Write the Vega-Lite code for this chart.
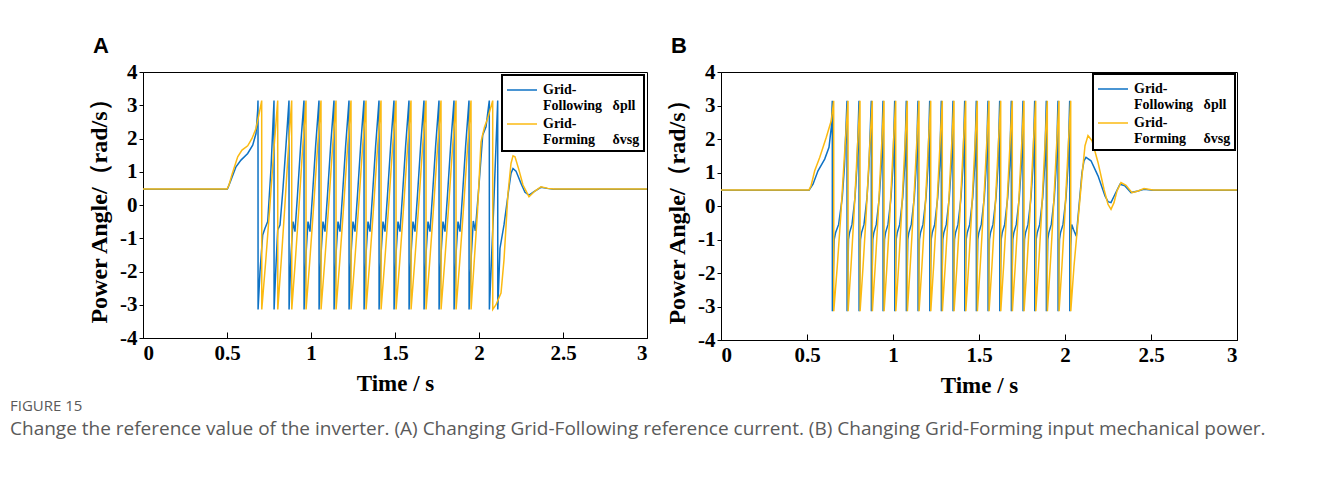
{
"$schema":"https://vega.github.io/schema/vega-lite/v6.json",
"background":"white",
"padding":{"left":10,"top":34,"right":0,"bottom":0},
"datasets":{
"A":[
{"s":"Grid-Following","t":0,"v":0.47},{"s":"Grid-Following","t":0.5,"v":0.47},{"s":"Grid-Following","t":0.5042,"v":0.5},{"s":"Grid-Following","t":0.5238,"v":0.75},{"s":"Grid-Following","t":0.5536,"v":1.15},{"s":"Grid-Following","t":0.5833,"v":1.35},{"s":"Grid-Following","t":0.6232,"v":1.55},{"s":"Grid-Following","t":0.653,"v":1.8},{"s":"Grid-Following","t":0.6726,"v":2.15},{"s":"Grid-Following","t":0.6827,"v":2.85},{"s":"Grid-Following","t":0.6845,"v":3.14},
{"s":"Grid-Following","t":0.685,"v":-3.14},{"s":"Grid-Following","t":0.6964,"v":-2.0},{"s":"Grid-Following","t":0.7125,"v":-0.9},{"s":"Grid-Following","t":0.7262,"v":-0.7},{"s":"Grid-Following","t":0.7423,"v":-0.5},{"s":"Grid-Following","t":0.7619,"v":1.1},{"s":"Grid-Following","t":0.7798,"v":3.14},
{"s":"Grid-Following","t":0.7803,"v":-3.14},{"s":"Grid-Following","t":0.7917,"v":-1.8},{"s":"Grid-Following","t":0.8018,"v":-0.75},{"s":"Grid-Following","t":0.8155,"v":-0.6},{"s":"Grid-Following","t":0.8333,"v":0.5},{"s":"Grid-Following","t":0.8512,"v":1.8},{"s":"Grid-Following","t":0.869,"v":3.14},
{"s":"Grid-Following","t":0.8695,"v":-3.14},{"s":"Grid-Following","t":0.8809,"v":-1.5},{"s":"Grid-Following","t":0.8928,"v":-0.5},{"s":"Grid-Following","t":0.9047,"v":-0.8},{"s":"Grid-Following","t":0.9196,"v":0.3},{"s":"Grid-Following","t":0.9386,"v":1.8},{"s":"Grid-Following","t":0.9583,"v":3.14},
{"s":"Grid-Following","t":0.9588,"v":-3.14},{"s":"Grid-Following","t":0.9702,"v":-1.5},{"s":"Grid-Following","t":0.9821,"v":-0.5},{"s":"Grid-Following","t":0.994,"v":-0.8},{"s":"Grid-Following","t":1.0089,"v":0.3},{"s":"Grid-Following","t":1.0279,"v":1.8},{"s":"Grid-Following","t":1.0476,"v":3.14},
{"s":"Grid-Following","t":1.0481,"v":-3.14},{"s":"Grid-Following","t":1.0595,"v":-1.5},{"s":"Grid-Following","t":1.0714,"v":-0.5},{"s":"Grid-Following","t":1.0833,"v":-0.8},{"s":"Grid-Following","t":1.0982,"v":0.3},{"s":"Grid-Following","t":1.1172,"v":1.8},{"s":"Grid-Following","t":1.1369,"v":3.14},
{"s":"Grid-Following","t":1.1374,"v":-3.14},{"s":"Grid-Following","t":1.1488,"v":-1.5},{"s":"Grid-Following","t":1.1607,"v":-0.5},{"s":"Grid-Following","t":1.1726,"v":-0.8},{"s":"Grid-Following","t":1.1875,"v":0.3},{"s":"Grid-Following","t":1.2065,"v":1.8},{"s":"Grid-Following","t":1.2262,"v":3.14},
{"s":"Grid-Following","t":1.2267,"v":-3.14},{"s":"Grid-Following","t":1.2381,"v":-1.5},{"s":"Grid-Following","t":1.25,"v":-0.5},{"s":"Grid-Following","t":1.2619,"v":-0.8},{"s":"Grid-Following","t":1.2768,"v":0.3},{"s":"Grid-Following","t":1.2958,"v":1.8},{"s":"Grid-Following","t":1.3155,"v":3.14},
{"s":"Grid-Following","t":1.316,"v":-3.14},{"s":"Grid-Following","t":1.3274,"v":-1.5},{"s":"Grid-Following","t":1.3393,"v":-0.5},{"s":"Grid-Following","t":1.3512,"v":-0.8},{"s":"Grid-Following","t":1.3661,"v":0.3},{"s":"Grid-Following","t":1.3851,"v":1.8},{"s":"Grid-Following","t":1.4048,"v":3.14},
{"s":"Grid-Following","t":1.4053,"v":-3.14},{"s":"Grid-Following","t":1.4167,"v":-1.5},{"s":"Grid-Following","t":1.4286,"v":-0.5},{"s":"Grid-Following","t":1.4405,"v":-0.8},{"s":"Grid-Following","t":1.4554,"v":0.3},{"s":"Grid-Following","t":1.4744,"v":1.8},{"s":"Grid-Following","t":1.494,"v":3.14},
{"s":"Grid-Following","t":1.4945,"v":-3.14},{"s":"Grid-Following","t":1.5059,"v":-1.5},{"s":"Grid-Following","t":1.5178,"v":-0.5},{"s":"Grid-Following","t":1.5297,"v":-0.8},{"s":"Grid-Following","t":1.5446,"v":0.3},{"s":"Grid-Following","t":1.5636,"v":1.8},{"s":"Grid-Following","t":1.5833,"v":3.14},
{"s":"Grid-Following","t":1.5838,"v":-3.14},{"s":"Grid-Following","t":1.5952,"v":-1.5},{"s":"Grid-Following","t":1.6071,"v":-0.5},{"s":"Grid-Following","t":1.619,"v":-0.8},{"s":"Grid-Following","t":1.6339,"v":0.3},{"s":"Grid-Following","t":1.6529,"v":1.8},{"s":"Grid-Following","t":1.6726,"v":3.14},
{"s":"Grid-Following","t":1.6731,"v":-3.14},{"s":"Grid-Following","t":1.6845,"v":-1.5},{"s":"Grid-Following","t":1.6964,"v":-0.5},{"s":"Grid-Following","t":1.7083,"v":-0.8},{"s":"Grid-Following","t":1.7232,"v":0.3},{"s":"Grid-Following","t":1.7422,"v":1.8},{"s":"Grid-Following","t":1.7619,"v":3.14},
{"s":"Grid-Following","t":1.7624,"v":-3.14},{"s":"Grid-Following","t":1.7738,"v":-1.5},{"s":"Grid-Following","t":1.7857,"v":-0.5},{"s":"Grid-Following","t":1.7976,"v":-0.8},{"s":"Grid-Following","t":1.8125,"v":0.3},{"s":"Grid-Following","t":1.8315,"v":1.8},{"s":"Grid-Following","t":1.8512,"v":3.14},
{"s":"Grid-Following","t":1.8517,"v":-3.14},{"s":"Grid-Following","t":1.8631,"v":-1.5},{"s":"Grid-Following","t":1.875,"v":-0.5},{"s":"Grid-Following","t":1.8869,"v":-0.8},{"s":"Grid-Following","t":1.9018,"v":0.3},{"s":"Grid-Following","t":1.9208,"v":1.8},{"s":"Grid-Following","t":1.9405,"v":3.14},
{"s":"Grid-Following","t":1.941,"v":-3.14},{"s":"Grid-Following","t":1.9542,"v":-1.5},{"s":"Grid-Following","t":1.9661,"v":-0.48},{"s":"Grid-Following","t":1.978,"v":-0.78},{"s":"Grid-Following","t":2.0,"v":0.6},{"s":"Grid-Following","t":2.022,"v":2.1},{"s":"Grid-Following","t":2.0417,"v":2.35},{"s":"Grid-Following","t":2.0613,"v":3.14},
{"s":"Grid-Following","t":2.0618,"v":-3.14},{"s":"Grid-Following","t":2.0863,"v":-0.2},{"s":"Grid-Following","t":2.1113,"v":3.14},
{"s":"Grid-Following","t":2.1118,"v":-3.14},{"s":"Grid-Following","t":2.125,"v":-1.3},{"s":"Grid-Following","t":2.1488,"v":-0.6},{"s":"Grid-Following","t":2.1726,"v":0.3},{"s":"Grid-Following","t":2.1905,"v":0.95},{"s":"Grid-Following","t":2.2024,"v":1.1},{"s":"Grid-Following","t":2.2202,"v":1.02},{"s":"Grid-Following","t":2.25,"v":0.65},{"s":"Grid-Following","t":2.2738,"v":0.38},{"s":"Grid-Following","t":2.2976,"v":0.3},{"s":"Grid-Following","t":2.3274,"v":0.4},{"s":"Grid-Following","t":2.369,"v":0.53},{"s":"Grid-Following","t":2.4048,"v":0.5},{"s":"Grid-Following","t":2.4464,"v":0.47},{"s":"Grid-Following","t":3,"v":0.47},
{"s":"Grid-Forming","t":0,"v":0.48},{"s":"Grid-Forming","t":0.5,"v":0.48},{"s":"Grid-Forming","t":0.5119,"v":0.6},{"s":"Grid-Forming","t":0.5298,"v":0.92},{"s":"Grid-Forming","t":0.5637,"v":1.45},{"s":"Grid-Forming","t":0.5893,"v":1.65},{"s":"Grid-Forming","t":0.6232,"v":1.78},{"s":"Grid-Forming","t":0.6488,"v":2.0},{"s":"Grid-Forming","t":0.6726,"v":2.3},{"s":"Grid-Forming","t":0.6935,"v":2.8},{"s":"Grid-Forming","t":0.7065,"v":3.14},
{"s":"Grid-Forming","t":0.707,"v":-3.14},{"s":"Grid-Forming","t":0.7303,"v":-1.7},{"s":"Grid-Forming","t":0.7542,"v":-0.1},{"s":"Grid-Forming","t":0.778,"v":1.6},{"s":"Grid-Forming","t":0.8018,"v":3.14},
{"s":"Grid-Forming","t":0.8023,"v":-3.14},{"s":"Grid-Forming","t":0.8226,"v":-1.7},{"s":"Grid-Forming","t":0.8435,"v":-0.1},{"s":"Grid-Forming","t":0.8643,"v":1.6},{"s":"Grid-Forming","t":0.8851,"v":3.14},
{"s":"Grid-Forming","t":0.8856,"v":-3.14},{"s":"Grid-Forming","t":0.9064,"v":-1.7},{"s":"Grid-Forming","t":0.9277,"v":-0.1},{"s":"Grid-Forming","t":0.9489,"v":1.6},{"s":"Grid-Forming","t":0.9702,"v":3.14},
{"s":"Grid-Forming","t":0.9707,"v":-3.14},{"s":"Grid-Forming","t":0.9925,"v":-1.7},{"s":"Grid-Forming","t":1.0148,"v":-0.1},{"s":"Grid-Forming","t":1.0372,"v":1.6},{"s":"Grid-Forming","t":1.0595,"v":3.14},
{"s":"Grid-Forming","t":1.06,"v":-3.14},{"s":"Grid-Forming","t":1.0818,"v":-1.7},{"s":"Grid-Forming","t":1.1041,"v":-0.1},{"s":"Grid-Forming","t":1.1265,"v":1.6},{"s":"Grid-Forming","t":1.1488,"v":3.14},
{"s":"Grid-Forming","t":1.1493,"v":-3.14},{"s":"Grid-Forming","t":1.1711,"v":-1.7},{"s":"Grid-Forming","t":1.1934,"v":-0.1},{"s":"Grid-Forming","t":1.2158,"v":1.6},{"s":"Grid-Forming","t":1.2381,"v":3.14},
{"s":"Grid-Forming","t":1.2386,"v":-3.14},{"s":"Grid-Forming","t":1.2604,"v":-1.7},{"s":"Grid-Forming","t":1.2827,"v":-0.1},{"s":"Grid-Forming","t":1.3051,"v":1.6},{"s":"Grid-Forming","t":1.3274,"v":3.14},
{"s":"Grid-Forming","t":1.3279,"v":-3.14},{"s":"Grid-Forming","t":1.3497,"v":-1.7},{"s":"Grid-Forming","t":1.372,"v":-0.1},{"s":"Grid-Forming","t":1.3944,"v":1.6},{"s":"Grid-Forming","t":1.4167,"v":3.14},
{"s":"Grid-Forming","t":1.4172,"v":-3.14},{"s":"Grid-Forming","t":1.439,"v":-1.7},{"s":"Grid-Forming","t":1.4613,"v":-0.1},{"s":"Grid-Forming","t":1.4837,"v":1.6},{"s":"Grid-Forming","t":1.506,"v":3.14},
{"s":"Grid-Forming","t":1.5065,"v":-3.14},{"s":"Grid-Forming","t":1.5283,"v":-1.7},{"s":"Grid-Forming","t":1.5506,"v":-0.1},{"s":"Grid-Forming","t":1.573,"v":1.6},{"s":"Grid-Forming","t":1.5952,"v":3.14},
{"s":"Grid-Forming","t":1.5957,"v":-3.14},{"s":"Grid-Forming","t":1.6175,"v":-1.7},{"s":"Grid-Forming","t":1.6398,"v":-0.1},{"s":"Grid-Forming","t":1.6622,"v":1.6},{"s":"Grid-Forming","t":1.6845,"v":3.14},
{"s":"Grid-Forming","t":1.685,"v":-3.14},{"s":"Grid-Forming","t":1.7068,"v":-1.7},{"s":"Grid-Forming","t":1.7291,"v":-0.1},{"s":"Grid-Forming","t":1.7515,"v":1.6},{"s":"Grid-Forming","t":1.7738,"v":3.14},
{"s":"Grid-Forming","t":1.7743,"v":-3.14},{"s":"Grid-Forming","t":1.7961,"v":-1.7},{"s":"Grid-Forming","t":1.8184,"v":-0.1},{"s":"Grid-Forming","t":1.8408,"v":1.6},{"s":"Grid-Forming","t":1.8631,"v":3.14},
{"s":"Grid-Forming","t":1.8636,"v":-3.14},{"s":"Grid-Forming","t":1.8854,"v":-1.7},{"s":"Grid-Forming","t":1.9077,"v":-0.1},{"s":"Grid-Forming","t":1.9301,"v":1.6},{"s":"Grid-Forming","t":1.9524,"v":3.14},
{"s":"Grid-Forming","t":1.9529,"v":-3.14},{"s":"Grid-Forming","t":1.9702,"v":-1.8},{"s":"Grid-Forming","t":1.9911,"v":-0.2},{"s":"Grid-Forming","t":2.0119,"v":1.9},{"s":"Grid-Forming","t":2.0327,"v":2.35},{"s":"Grid-Forming","t":2.0518,"v":2.6},{"s":"Grid-Forming","t":2.0815,"v":3.14},
{"s":"Grid-Forming","t":2.082,"v":-3.14},{"s":"Grid-Forming","t":2.1012,"v":-3.0},{"s":"Grid-Forming","t":2.131,"v":-2.65},{"s":"Grid-Forming","t":2.1488,"v":-1.65},{"s":"Grid-Forming","t":2.1726,"v":0.35},{"s":"Grid-Forming","t":2.1905,"v":1.25},{"s":"Grid-Forming","t":2.2024,"v":1.48},{"s":"Grid-Forming","t":2.2143,"v":1.45},{"s":"Grid-Forming","t":2.2381,"v":1.05},{"s":"Grid-Forming","t":2.2619,"v":0.6},{"s":"Grid-Forming","t":2.2976,"v":0.25},{"s":"Grid-Forming","t":2.3333,"v":0.42},{"s":"Grid-Forming","t":2.369,"v":0.55},{"s":"Grid-Forming","t":2.4107,"v":0.5},{"s":"Grid-Forming","t":2.4464,"v":0.48},{"s":"Grid-Forming","t":3,"v":0.48}
],
"B":[
{"s":"Grid-Following","t":0,"v":0.47},{"s":"Grid-Following","t":0.5116,"v":0.47},{"s":"Grid-Following","t":0.5349,"v":0.65},{"s":"Grid-Following","t":0.564,"v":1.05},{"s":"Grid-Following","t":0.6029,"v":1.4},{"s":"Grid-Following","t":0.6279,"v":1.75},{"s":"Grid-Following","t":0.6413,"v":2.35},{"s":"Grid-Following","t":0.6471,"v":3.14},
{"s":"Grid-Following","t":0.6476,"v":-3.14},{"s":"Grid-Following","t":0.658,"v":-1.0},{"s":"Grid-Following","t":0.666,"v":-0.8},{"s":"Grid-Following","t":0.684,"v":-0.55},{"s":"Grid-Following","t":0.705,"v":0.25},{"s":"Grid-Following","t":0.718,"v":1.2},{"s":"Grid-Following","t":0.7326,"v":3.14},
{"s":"Grid-Following","t":0.7331,"v":-3.14},{"s":"Grid-Following","t":0.7413,"v":-1.0},{"s":"Grid-Following","t":0.7471,"v":-0.8},{"s":"Grid-Following","t":0.7617,"v":-0.55},{"s":"Grid-Following","t":0.7791,"v":0.25},{"s":"Grid-Following","t":0.7907,"v":1.2},{"s":"Grid-Following","t":0.8023,"v":3.14},
{"s":"Grid-Following","t":0.8028,"v":-3.14},{"s":"Grid-Following","t":0.811,"v":-1.0},{"s":"Grid-Following","t":0.8168,"v":-0.8},{"s":"Grid-Following","t":0.8314,"v":-0.55},{"s":"Grid-Following","t":0.8488,"v":0.25},{"s":"Grid-Following","t":0.8604,"v":1.2},{"s":"Grid-Following","t":0.8738,"v":3.14},
{"s":"Grid-Following","t":0.8743,"v":-3.14},{"s":"Grid-Following","t":0.8825,"v":-1.0},{"s":"Grid-Following","t":0.8883,"v":-0.8},{"s":"Grid-Following","t":0.9029,"v":-0.55},{"s":"Grid-Following","t":0.9203,"v":0.25},{"s":"Grid-Following","t":0.9319,"v":1.2},{"s":"Grid-Following","t":0.9419,"v":3.14},
{"s":"Grid-Following","t":0.9424,"v":-3.14},{"s":"Grid-Following","t":0.9506,"v":-1.0},{"s":"Grid-Following","t":0.9564,"v":-0.8},{"s":"Grid-Following","t":0.971,"v":-0.55},{"s":"Grid-Following","t":0.9884,"v":0.25},{"s":"Grid-Following","t":1.0,"v":1.2},{"s":"Grid-Following","t":1.0099,"v":3.14},
{"s":"Grid-Following","t":1.0104,"v":-3.14},{"s":"Grid-Following","t":1.0186,"v":-1.0},{"s":"Grid-Following","t":1.0244,"v":-0.8},{"s":"Grid-Following","t":1.039,"v":-0.55},{"s":"Grid-Following","t":1.0564,"v":0.25},{"s":"Grid-Following","t":1.068,"v":1.2},{"s":"Grid-Following","t":1.0773,"v":3.14},
{"s":"Grid-Following","t":1.0778,"v":-3.14},{"s":"Grid-Following","t":1.086,"v":-1.0},{"s":"Grid-Following","t":1.0918,"v":-0.8},{"s":"Grid-Following","t":1.1064,"v":-0.55},{"s":"Grid-Following","t":1.1238,"v":0.25},{"s":"Grid-Following","t":1.1354,"v":1.2},{"s":"Grid-Following","t":1.1453,"v":3.14},
{"s":"Grid-Following","t":1.1458,"v":-3.14},{"s":"Grid-Following","t":1.154,"v":-1.0},{"s":"Grid-Following","t":1.1598,"v":-0.8},{"s":"Grid-Following","t":1.1744,"v":-0.55},{"s":"Grid-Following","t":1.1918,"v":0.25},{"s":"Grid-Following","t":1.2034,"v":1.2},{"s":"Grid-Following","t":1.2134,"v":3.14},
{"s":"Grid-Following","t":1.2139,"v":-3.14},{"s":"Grid-Following","t":1.2221,"v":-1.0},{"s":"Grid-Following","t":1.2279,"v":-0.8},{"s":"Grid-Following","t":1.2425,"v":-0.55},{"s":"Grid-Following","t":1.2599,"v":0.25},{"s":"Grid-Following","t":1.2715,"v":1.2},{"s":"Grid-Following","t":1.2808,"v":3.14},
{"s":"Grid-Following","t":1.2813,"v":-3.14},{"s":"Grid-Following","t":1.2895,"v":-1.0},{"s":"Grid-Following","t":1.2953,"v":-0.8},{"s":"Grid-Following","t":1.3099,"v":-0.55},{"s":"Grid-Following","t":1.3273,"v":0.25},{"s":"Grid-Following","t":1.3389,"v":1.2},{"s":"Grid-Following","t":1.3488,"v":3.14},
{"s":"Grid-Following","t":1.3493,"v":-3.14},{"s":"Grid-Following","t":1.3575,"v":-1.0},{"s":"Grid-Following","t":1.3633,"v":-0.8},{"s":"Grid-Following","t":1.3779,"v":-0.55},{"s":"Grid-Following","t":1.3953,"v":0.25},{"s":"Grid-Following","t":1.4069,"v":1.2},{"s":"Grid-Following","t":1.4169,"v":3.14},
{"s":"Grid-Following","t":1.4174,"v":-3.14},{"s":"Grid-Following","t":1.4256,"v":-1.0},{"s":"Grid-Following","t":1.4314,"v":-0.8},{"s":"Grid-Following","t":1.446,"v":-0.55},{"s":"Grid-Following","t":1.4634,"v":0.25},{"s":"Grid-Following","t":1.475,"v":1.2},{"s":"Grid-Following","t":1.4843,"v":3.14},
{"s":"Grid-Following","t":1.4848,"v":-3.14},{"s":"Grid-Following","t":1.493,"v":-1.0},{"s":"Grid-Following","t":1.4988,"v":-0.8},{"s":"Grid-Following","t":1.5134,"v":-0.55},{"s":"Grid-Following","t":1.5308,"v":0.25},{"s":"Grid-Following","t":1.5424,"v":1.2},{"s":"Grid-Following","t":1.5523,"v":3.14},
{"s":"Grid-Following","t":1.5528,"v":-3.14},{"s":"Grid-Following","t":1.561,"v":-1.0},{"s":"Grid-Following","t":1.5668,"v":-0.8},{"s":"Grid-Following","t":1.5814,"v":-0.55},{"s":"Grid-Following","t":1.5988,"v":0.25},{"s":"Grid-Following","t":1.6104,"v":1.2},{"s":"Grid-Following","t":1.6203,"v":3.14},
{"s":"Grid-Following","t":1.6208,"v":-3.14},{"s":"Grid-Following","t":1.629,"v":-1.0},{"s":"Grid-Following","t":1.6348,"v":-0.8},{"s":"Grid-Following","t":1.6494,"v":-0.55},{"s":"Grid-Following","t":1.6668,"v":0.25},{"s":"Grid-Following","t":1.6784,"v":1.2},{"s":"Grid-Following","t":1.6878,"v":3.14},
{"s":"Grid-Following","t":1.6883,"v":-3.14},{"s":"Grid-Following","t":1.6965,"v":-1.0},{"s":"Grid-Following","t":1.7023,"v":-0.8},{"s":"Grid-Following","t":1.7169,"v":-0.55},{"s":"Grid-Following","t":1.7343,"v":0.25},{"s":"Grid-Following","t":1.7459,"v":1.2},{"s":"Grid-Following","t":1.7558,"v":3.14},
{"s":"Grid-Following","t":1.7563,"v":-3.14},{"s":"Grid-Following","t":1.7645,"v":-1.0},{"s":"Grid-Following","t":1.7703,"v":-0.8},{"s":"Grid-Following","t":1.7849,"v":-0.55},{"s":"Grid-Following","t":1.8023,"v":0.25},{"s":"Grid-Following","t":1.8139,"v":1.2},{"s":"Grid-Following","t":1.8238,"v":3.14},
{"s":"Grid-Following","t":1.8243,"v":-3.14},{"s":"Grid-Following","t":1.8325,"v":-1.0},{"s":"Grid-Following","t":1.8383,"v":-0.8},{"s":"Grid-Following","t":1.8529,"v":-0.55},{"s":"Grid-Following","t":1.8703,"v":0.25},{"s":"Grid-Following","t":1.8819,"v":1.2},{"s":"Grid-Following","t":1.8913,"v":3.14},
{"s":"Grid-Following","t":1.8918,"v":-3.14},{"s":"Grid-Following","t":1.9,"v":-1.0},{"s":"Grid-Following","t":1.9058,"v":-0.8},{"s":"Grid-Following","t":1.9204,"v":-0.55},{"s":"Grid-Following","t":1.9378,"v":0.25},{"s":"Grid-Following","t":1.9494,"v":1.2},{"s":"Grid-Following","t":1.9593,"v":3.14},
{"s":"Grid-Following","t":1.9598,"v":-3.14},{"s":"Grid-Following","t":1.968,"v":-1.0},{"s":"Grid-Following","t":1.9738,"v":-0.8},{"s":"Grid-Following","t":1.9884,"v":-0.55},{"s":"Grid-Following","t":2.0058,"v":0.25},{"s":"Grid-Following","t":2.0174,"v":1.2},{"s":"Grid-Following","t":2.0273,"v":3.14},
{"s":"Grid-Following","t":2.0278,"v":-3.14},{"s":"Grid-Following","t":2.0331,"v":-1.2},{"s":"Grid-Following","t":2.039,"v":-0.55},{"s":"Grid-Following","t":2.0494,"v":-0.7},{"s":"Grid-Following","t":2.0657,"v":-0.9},{"s":"Grid-Following","t":2.0814,"v":0.0},{"s":"Grid-Following","t":2.0988,"v":1.0},{"s":"Grid-Following","t":2.1105,"v":1.35},{"s":"Grid-Following","t":2.1221,"v":1.45},{"s":"Grid-Following","t":2.1512,"v":1.35},{"s":"Grid-Following","t":2.1919,"v":0.9},{"s":"Grid-Following","t":2.2326,"v":0.3},{"s":"Grid-Following","t":2.25,"v":0.13},{"s":"Grid-Following","t":2.2674,"v":0.1},{"s":"Grid-Following","t":2.2907,"v":0.35},{"s":"Grid-Following","t":2.3198,"v":0.65},{"s":"Grid-Following","t":2.3488,"v":0.6},{"s":"Grid-Following","t":2.3837,"v":0.4},{"s":"Grid-Following","t":2.4244,"v":0.45},{"s":"Grid-Following","t":2.4593,"v":0.5},{"s":"Grid-Following","t":2.5116,"v":0.47},{"s":"Grid-Following","t":3,"v":0.47},
{"s":"Grid-Forming","t":0,"v":0.48},{"s":"Grid-Forming","t":0.5116,"v":0.48},{"s":"Grid-Forming","t":0.5233,"v":0.6},{"s":"Grid-Forming","t":0.5448,"v":1.05},{"s":"Grid-Forming","t":0.5738,"v":1.45},{"s":"Grid-Forming","t":0.6122,"v":2.05},{"s":"Grid-Forming","t":0.6413,"v":2.55},{"s":"Grid-Forming","t":0.6552,"v":3.14},
{"s":"Grid-Forming","t":0.6557,"v":-3.14},{"s":"Grid-Forming","t":0.676,"v":-1.8},{"s":"Grid-Forming","t":0.6968,"v":-0.25},{"s":"Grid-Forming","t":0.7176,"v":1.5},{"s":"Grid-Forming","t":0.7384,"v":3.14},
{"s":"Grid-Forming","t":0.7389,"v":-3.14},{"s":"Grid-Forming","t":0.7558,"v":-1.8},{"s":"Grid-Forming","t":0.7733,"v":-0.25},{"s":"Grid-Forming","t":0.7907,"v":1.5},{"s":"Grid-Forming","t":0.8081,"v":3.14},
{"s":"Grid-Forming","t":0.8086,"v":-3.14},{"s":"Grid-Forming","t":0.826,"v":-1.8},{"s":"Grid-Forming","t":0.8439,"v":-0.25},{"s":"Grid-Forming","t":0.8617,"v":1.5},{"s":"Grid-Forming","t":0.8796,"v":3.14},
{"s":"Grid-Forming","t":0.8801,"v":-3.14},{"s":"Grid-Forming","t":0.8966,"v":-1.8},{"s":"Grid-Forming","t":0.9137,"v":-0.25},{"s":"Grid-Forming","t":0.9307,"v":1.5},{"s":"Grid-Forming","t":0.9477,"v":3.14},
{"s":"Grid-Forming","t":0.9482,"v":-3.14},{"s":"Grid-Forming","t":0.9647,"v":-1.8},{"s":"Grid-Forming","t":0.9817,"v":-0.25},{"s":"Grid-Forming","t":0.9987,"v":1.5},{"s":"Grid-Forming","t":1.0157,"v":3.14},
{"s":"Grid-Forming","t":1.0162,"v":-3.14},{"s":"Grid-Forming","t":1.0326,"v":-1.8},{"s":"Grid-Forming","t":1.0494,"v":-0.25},{"s":"Grid-Forming","t":1.0663,"v":1.5},{"s":"Grid-Forming","t":1.0831,"v":3.14},
{"s":"Grid-Forming","t":1.0836,"v":-3.14},{"s":"Grid-Forming","t":1.1001,"v":-1.8},{"s":"Grid-Forming","t":1.1171,"v":-0.25},{"s":"Grid-Forming","t":1.1341,"v":1.5},{"s":"Grid-Forming","t":1.1511,"v":3.14},
{"s":"Grid-Forming","t":1.1516,"v":-3.14},{"s":"Grid-Forming","t":1.1681,"v":-1.8},{"s":"Grid-Forming","t":1.1852,"v":-0.25},{"s":"Grid-Forming","t":1.2022,"v":1.5},{"s":"Grid-Forming","t":1.2192,"v":3.14},
{"s":"Grid-Forming","t":1.2197,"v":-3.14},{"s":"Grid-Forming","t":1.2361,"v":-1.8},{"s":"Grid-Forming","t":1.2529,"v":-0.25},{"s":"Grid-Forming","t":1.2698,"v":1.5},{"s":"Grid-Forming","t":1.2866,"v":3.14},
{"s":"Grid-Forming","t":1.2871,"v":-3.14},{"s":"Grid-Forming","t":1.3036,"v":-1.8},{"s":"Grid-Forming","t":1.3206,"v":-0.25},{"s":"Grid-Forming","t":1.3376,"v":1.5},{"s":"Grid-Forming","t":1.3546,"v":3.14},
{"s":"Grid-Forming","t":1.3551,"v":-3.14},{"s":"Grid-Forming","t":1.3716,"v":-1.8},{"s":"Grid-Forming","t":1.3887,"v":-0.25},{"s":"Grid-Forming","t":1.4057,"v":1.5},{"s":"Grid-Forming","t":1.4227,"v":3.14},
{"s":"Grid-Forming","t":1.4232,"v":-3.14},{"s":"Grid-Forming","t":1.4396,"v":-1.8},{"s":"Grid-Forming","t":1.4564,"v":-0.25},{"s":"Grid-Forming","t":1.4733,"v":1.5},{"s":"Grid-Forming","t":1.4901,"v":3.14},
{"s":"Grid-Forming","t":1.4906,"v":-3.14},{"s":"Grid-Forming","t":1.5071,"v":-1.8},{"s":"Grid-Forming","t":1.5241,"v":-0.25},{"s":"Grid-Forming","t":1.5411,"v":1.5},{"s":"Grid-Forming","t":1.5581,"v":3.14},
{"s":"Grid-Forming","t":1.5586,"v":-3.14},{"s":"Grid-Forming","t":1.5751,"v":-1.8},{"s":"Grid-Forming","t":1.5921,"v":-0.25},{"s":"Grid-Forming","t":1.6091,"v":1.5},{"s":"Grid-Forming","t":1.6261,"v":3.14},
{"s":"Grid-Forming","t":1.6266,"v":-3.14},{"s":"Grid-Forming","t":1.643,"v":-1.8},{"s":"Grid-Forming","t":1.6599,"v":-0.25},{"s":"Grid-Forming","t":1.6767,"v":1.5},{"s":"Grid-Forming","t":1.6936,"v":3.14},
{"s":"Grid-Forming","t":1.6941,"v":-3.14},{"s":"Grid-Forming","t":1.7106,"v":-1.8},{"s":"Grid-Forming","t":1.7276,"v":-0.25},{"s":"Grid-Forming","t":1.7446,"v":1.5},{"s":"Grid-Forming","t":1.7616,"v":3.14},
{"s":"Grid-Forming","t":1.7621,"v":-3.14},{"s":"Grid-Forming","t":1.7786,"v":-1.8},{"s":"Grid-Forming","t":1.7956,"v":-0.25},{"s":"Grid-Forming","t":1.8126,"v":1.5},{"s":"Grid-Forming","t":1.8296,"v":3.14},
{"s":"Grid-Forming","t":1.8301,"v":-3.14},{"s":"Grid-Forming","t":1.8465,"v":-1.8},{"s":"Grid-Forming","t":1.8634,"v":-0.25},{"s":"Grid-Forming","t":1.8802,"v":1.5},{"s":"Grid-Forming","t":1.8971,"v":3.14},
{"s":"Grid-Forming","t":1.8976,"v":-3.14},{"s":"Grid-Forming","t":1.9141,"v":-1.8},{"s":"Grid-Forming","t":1.9311,"v":-0.25},{"s":"Grid-Forming","t":1.9481,"v":1.5},{"s":"Grid-Forming","t":1.9651,"v":3.14},
{"s":"Grid-Forming","t":1.9656,"v":-3.14},{"s":"Grid-Forming","t":1.9821,"v":-1.8},{"s":"Grid-Forming","t":1.9991,"v":-0.25},{"s":"Grid-Forming","t":2.0161,"v":1.5},{"s":"Grid-Forming","t":2.0331,"v":3.14},
{"s":"Grid-Forming","t":2.0336,"v":-3.14},{"s":"Grid-Forming","t":2.0523,"v":-1.8},{"s":"Grid-Forming","t":2.0756,"v":-0.45},{"s":"Grid-Forming","t":2.0988,"v":0.9},{"s":"Grid-Forming","t":2.1163,"v":1.8},{"s":"Grid-Forming","t":2.1337,"v":2.1},{"s":"Grid-Forming","t":2.157,"v":1.95},{"s":"Grid-Forming","t":2.1919,"v":1.3},{"s":"Grid-Forming","t":2.2267,"v":0.5},{"s":"Grid-Forming","t":2.25,"v":0.05},{"s":"Grid-Forming","t":2.2674,"v":-0.1},{"s":"Grid-Forming","t":2.2849,"v":0.1},{"s":"Grid-Forming","t":2.3023,"v":0.45},{"s":"Grid-Forming","t":2.3256,"v":0.7},{"s":"Grid-Forming","t":2.3547,"v":0.62},{"s":"Grid-Forming","t":2.3895,"v":0.4},{"s":"Grid-Forming","t":2.4244,"v":0.45},{"s":"Grid-Forming","t":2.4593,"v":0.52},{"s":"Grid-Forming","t":2.5116,"v":0.48},{"s":"Grid-Forming","t":3,"v":0.48}
]
},
"title":{"text":"FIGURE 15","subtitle":"Change the reference value of the inverter. (A) Changing Grid-Following reference current. (B) Changing Grid-Forming input mechanical power.","orient":"bottom","anchor":"start","frame":"bounds","dx":-77,"offset":1,"font":"Open Sans","fontSize":15,"fontWeight":"normal","color":"#5a5a5a","subtitleFont":"Open Sans","subtitleFontSize":19,"subtitleColor":"#5a5a5a","subtitlePadding":6},
"spacing":17,
"resolve":{"legend":{"color":"independent"}},
"hconcat":[
{"width":504,"height":266,"data":{"name":"A"},
"title":{"text":"A","anchor":"start","frame":"group","dx":-50,"offset":3,"font":"Liberation Sans","fontSize":22,"fontWeight":"bold","color":"black"},
"mark":{"type":"line","strokeWidth":1.5,"clip":true},
"encoding":{
"x":{"field":"t","type":"quantitative","scale":{"domain":[0,3],"nice":false},"axis":{"values":[0,0.5,1,1.5,2,2.5,3],"format":"~g","title":"Time / s","tickSize":-6,"labelPadding":10,"titlePadding":9}},
"y":{"field":"v","type":"quantitative","scale":{"domain":[-4,4],"nice":false},"axis":{"values":[-4,-3,-2,-1,0,1,2,3,4],"labelExpr":"datum.value < 0 ? '-' + abs(datum.value) : '' + datum.value","title":"Power Angle/（rad/s）","titleFontSize":24,"tickSize":4,"labelPadding":2,"titlePadding":8}},
"color":{"field":"s","type":"nominal","scale":{"domain":["Grid-Following","Grid-Forming"],"range":["#0E72C4","#FBBA12"]},
"legend":{"title":null,"orient":"top-right","offset":3,"strokeColor":"black","fillColor":"white","padding":4,"symbolType":"M-1,0H2","symbolSize":400,"symbolStrokeWidth":1.5,"labelOffset":15,"labelFont":"Liberation Serif","labelFontWeight":"bold","labelFontSize":14,"labelColor":"black","labelLimit":300,"rowPadding":0,
"encode":{"legend":{"update":{"strokeWidth":{"value":2}}}},
"labelExpr":"datum.label == 'Grid-Following' ? ['\u00a0\u00a0\u00a0\u00a0Grid-', 'Following\u00a0\u00a0\u00a0δpll'] : ['\u00a0\u00a0\u00a0\u00a0Grid-', 'Forming\u00a0\u00a0\u00a0\u00a0\u00a0δvsg']"}}
}},
{"width":516,"height":268,"data":{"name":"B"},
"title":{"text":"B","anchor":"start","frame":"group","dx":-50,"offset":3,"font":"Liberation Sans","fontSize":22,"fontWeight":"bold","color":"black"},
"mark":{"type":"line","strokeWidth":1.5,"clip":true},
"encoding":{
"x":{"field":"t","type":"quantitative","scale":{"domain":[0,3],"nice":false},"axis":{"values":[0,0.5,1,1.5,2,2.5,3],"format":"~g","title":"Time / s","tickSize":-6,"labelPadding":10,"titlePadding":9}},
"y":{"field":"v","type":"quantitative","scale":{"domain":[-4,4],"nice":false},"axis":{"values":[-4,-3,-2,-1,0,1,2,3,4],"labelExpr":"datum.value < 0 ? '-' + abs(datum.value) : '' + datum.value","title":"Power Angle/（rad/s）","titleFontSize":24,"tickSize":4,"labelPadding":2,"titlePadding":8}},
"color":{"field":"s","type":"nominal","scale":{"domain":["Grid-Following","Grid-Forming"],"range":["#0E72C4","#FBBA12"]},
"legend":{"title":null,"orient":"top-right","offset":2,"strokeColor":"black","fillColor":"white","padding":4,"symbolType":"M-1,0H2","symbolSize":400,"symbolStrokeWidth":1.5,"labelOffset":15,"labelFont":"Liberation Serif","labelFontWeight":"bold","labelFontSize":14,"labelColor":"black","labelLimit":300,"rowPadding":0,
"encode":{"legend":{"update":{"strokeWidth":{"value":2}}}},
"labelExpr":"datum.label == 'Grid-Following' ? ['\u00a0\u00a0\u00a0\u00a0Grid-', 'Following\u00a0\u00a0\u00a0δpll'] : ['\u00a0\u00a0\u00a0\u00a0Grid-', 'Forming\u00a0\u00a0\u00a0\u00a0\u00a0δvsg']"}}
}}
],
"config":{
"font":"Liberation Serif",
"view":{"stroke":"black","strokeWidth":1},
"axis":{"grid":false,"domainColor":"black","tickColor":"black","labelFont":"Liberation Serif","labelFontWeight":"bold","labelFontSize":21,"labelColor":"black","titleFont":"Liberation Serif","titleFontWeight":"bold","titleFontSize":23,"titleColor":"black"}
}
}
